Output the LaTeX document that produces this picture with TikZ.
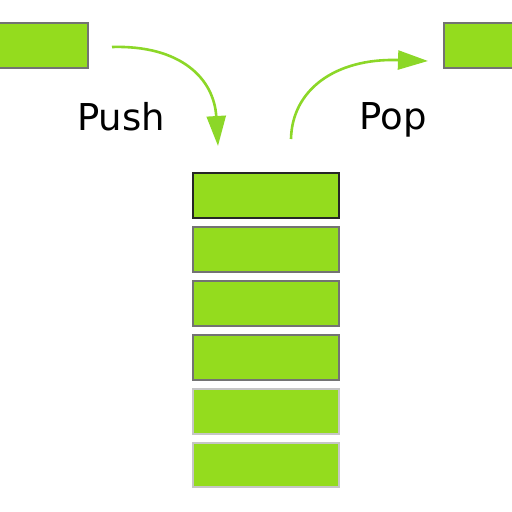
\documentclass[tikz,border=0pt]{standalone}
\usepackage{fontspec}
\setmainfont{DejaVu Sans}
\usetikzlibrary{arrows.meta}
\definecolor{lime}{RGB}{148,220,30}
\definecolor{arrowc}{RGB}{140,215,40}
\tikzset{
  blk/.style={draw=gray!90!black, line width=1.1pt, fill=lime},
  topblk/.style={draw=black!85, line width=1.2pt, fill=lime},
  lowblk/.style={draw=gray!45, line width=1.1pt, fill=lime},
  flow/.style={draw=arrowc, line width=2.6pt, -{Triangle[length=30pt,width=19pt]}},
  lbl/.style={font=\fontsize{37}{40}\selectfont, text=black, anchor=base}
}
\begin{document}
\begin{tikzpicture}[x=1pt,y=-1pt]
\useasboundingbox (0,0) rectangle (512,512);
\clip (0,0) rectangle (512,512);
\path[blk] (-4,23) rectangle (88,68);
\path[blk] (444,23) rectangle (516,68);
\node[inner sep=0] (inL) at (44,45) {};
\node[inner sep=0] (outR) at (480,45) {};
\path[topblk] (193,173) rectangle (339,218);
\path[blk] (193,227) rectangle (339,272);
\path[blk] (193,281) rectangle (339,326);
\path[blk] (193,335) rectangle (339,380);
\path[lowblk] (193,389) rectangle (339,434);
\path[lowblk] (193,443) rectangle (339,487);
\node[lbl] (push) at (121,130) {Push};
\node[lbl] (pop) at (393,129) {Pop};
\coordinate (ps) at (112,47);
\coordinate (pe) at (218,146);
\coordinate (os) at (291,139);
\coordinate (oe) at (428,61);
\draw[flow] (ps) .. controls (180,45) and (214,78) .. (pe);
\draw[flow] (os) .. controls (292,90) and (335,58) .. (oe);
\end{tikzpicture}
\end{document}
